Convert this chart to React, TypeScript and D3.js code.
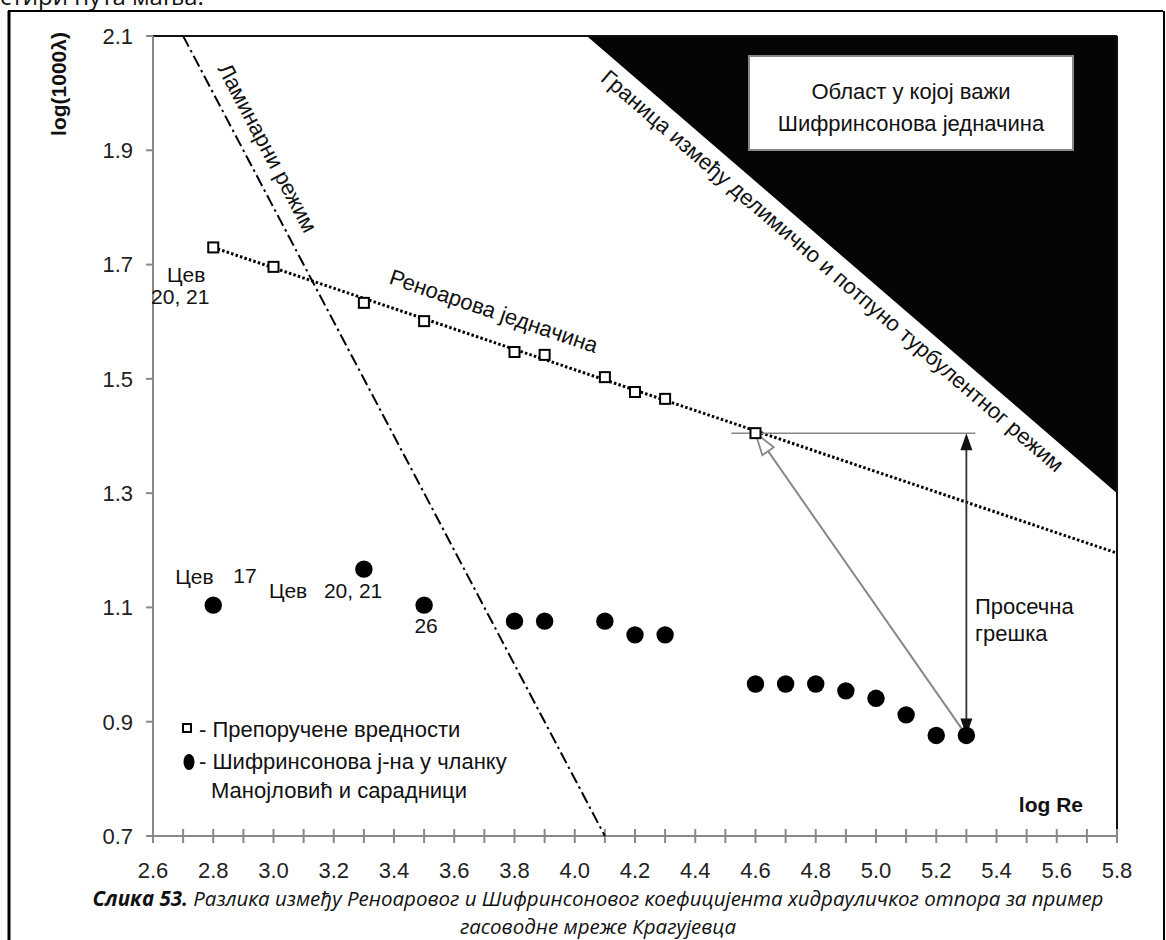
import React from 'react';
import * as d3 from 'd3';

// Recommended values (Renoar equation)
const renoarX = [2.8, 3.0, 3.3, 3.5, 3.8, 3.9, 4.1, 4.2, 4.3, 4.6];
const renoarY = [1.73, 1.696, 1.633, 1.601, 1.547, 1.542, 1.503, 1.477, 1.465, 1.405];
// Shifrinson equation values
const shifX = [2.8, 3.3, 3.5, 3.8, 3.9, 4.1, 4.2, 4.3, 4.6, 4.7, 4.8, 4.9, 5.0, 5.1, 5.2, 5.3];
const shifY = [1.104, 1.167, 1.104, 1.076, 1.076, 1.076, 1.052, 1.052, 0.966, 0.966, 0.966, 0.954, 0.941, 0.912, 0.876, 0.876];
// Lines
const laminarLine: [number, number][] = [[2.7, 2.1], [4.1, 0.7]];
const renoarLine: [number, number][] = [[2.8, 1.73], [5.8, 1.195]];
const turbulentArea: [number, number][] = [[4.04, 2.1], [5.8, 2.1], [5.8, 1.3]];
const errorFrom: [number, number] = [5.3, 0.876];
const errorTo: [number, number] = [4.6, 1.405];
const errorHLine: [number, number][] = [[4.52, 1.405], [5.33, 1.405]];
// Axes
const xTickLabels = ['2.6', '2.8', '3.0', '3.2', '3.4', '3.6', '3.8', '4.0', '4.2', '4.4', '4.6', '4.8', '5.0', '5.2', '5.4', '5.6', '5.8'];
const yTickLabels = ['0.7', '0.9', '1.1', '1.3', '1.5', '1.7', '1.9', '2.1'];

const FONT = '"Liberation Sans", Arial, sans-serif';
const CAP_FONT = '"Open Sans", "Noto Sans", sans-serif';

export default function App() {
  const x = d3.scaleLinear().domain([2.6, 5.8]).range([153, 1117]);
  const y = d3.scaleLinear().domain([0.7, 2.1]).range([836, 36]);
  const line = d3.line<[number, number]>().x(d => x(d[0])).y(d => y(d[1]));
  const minorTicks = d3.range(26, 59).map(v => v / 10);

  const along = (pts: [number, number][], frac: number, off: number, text: string, size = 22) => {
    const ax = x(pts[0][0]), ay = y(pts[0][1]);
    const bx = x(pts[pts.length - 1][0]), by = y(pts[pts.length - 1][1]);
    const ang = (Math.atan2(by - ay, bx - ax) * 180) / Math.PI;
    const cx = ax + (bx - ax) * frac, cy = ay + (by - ay) * frac;
    return (
      <text transform={`translate(${cx},${cy}) rotate(${ang})`} y={off} textAnchor="middle" fontSize={size} fill="#111">
        {text}
      </text>
    );
  };

  // error arrow geometry
  const fx = x(errorFrom[0]), fy = y(errorFrom[1]);
  const tx = x(errorTo[0]), ty = y(errorTo[1]);
  const dl = Math.hypot(tx - fx, ty - fy);
  const ux = (tx - fx) / dl, uy = (ty - fy) / dl;
  const hl = 22, hw = 7;
  const bxh = tx - ux * hl, byh = ty - uy * hl;
  const hollowHead = `M${tx},${ty} L${bxh - uy * hw},${byh + ux * hw} L${bxh + uy * hw},${byh - ux * hw} Z`;

  const vx = x(errorFrom[0]);
  const vTop = y(errorTo[1]);
  const vBot = y(errorFrom[1]);

  const tri = (tipX: number, tipY: number, dir: number) =>
    `M${tipX},${tipY} L${tipX - 6},${tipY + dir * 17} L${tipX + 6},${tipY + dir * 17} Z`;

  return (
    <svg width={1166} height={940} style={{ position: 'absolute', left: 0, top: 0, background: '#fff' }} fontFamily={FONT}>
      {/* clipped page text above the figure */}
      <text x={0} y={5} fontFamily={CAP_FONT} fontSize={24} fill="#111">стири пута мања.</text>
      {/* figure frame */}
      <line x1={8} y1={11} x2={1163} y2={11} stroke="#000" strokeWidth={2} />
      <line x1={9} y1={11} x2={9} y2={940} stroke="#000" strokeWidth={3} />
      <line x1={1164} y1={11} x2={1164} y2={940} stroke="#000" strokeWidth={2} />

      {/* turbulent area */}
      <path d={line(turbulentArea) + 'Z'} fill="#050505" />
      <rect x={749} y={56} width={324} height={94} fill="#fff" stroke="#888" strokeWidth={2} />
      <text x={911} y={99} textAnchor="middle" fontSize={22} fill="#111">Област у којој важи</text>
      <text x={911} y={131} textAnchor="middle" fontSize={22} fill="#111">Шифринсонова једначина</text>

      {/* plot frame */}
      <line x1={x(2.6)} y1={y(2.1)} x2={x(5.8)} y2={y(2.1)} stroke="#111" strokeWidth={2} />
      <line x1={x(5.8)} y1={y(2.1)} x2={x(5.8)} y2={y(0.7)} stroke="#111" strokeWidth={2} />
      {/* y axis */}
      <line x1={x(2.6)} y1={y(2.1)} x2={x(2.6)} y2={y(0.7)} stroke="#888" strokeWidth={2} />
      {yTickLabels.map(l => (
        <g key={l}>
          <line x1={x(2.6) - 7} x2={x(2.6)} y1={y(+l)} y2={y(+l)} stroke="#888" strokeWidth={2} />
          <text x={x(2.6) - 20} y={y(+l)} dy="0.36em" textAnchor="end" fontSize={22} fill="#222">{l}</text>
        </g>
      ))}
      {/* x axis */}
      <line x1={x(2.6) - 7} y1={y(0.7)} x2={x(5.8)} y2={y(0.7)} stroke="#888" strokeWidth={2} />
      {minorTicks.map(v => (
        <line key={v} x1={x(v)} x2={x(v)} y1={y(0.7) - 7} y2={y(0.7) + 7} stroke="#888" strokeWidth={2} />
      ))}
      {xTickLabels.map(l => (
        <text key={l} x={x(+l)} y={y(0.7) + 42} textAnchor="middle" fontSize={22} fill="#222">{l}</text>
      ))}

      {/* axis titles */}
      <text transform={`translate(66,84) rotate(-90)`} textAnchor="middle" fontSize={21} fontWeight="bold" fill="#111">log(1000λ)</text>
      <text x={1083} y={812} textAnchor="end" fontSize={21} fontWeight="bold" fill="#111">log Re</text>

      {/* laminar line */}
      <path d={line(laminarLine) || ''} stroke="#000" strokeWidth={2} fill="none" strokeDasharray="12 4 2.5 4" />
      {along(laminarLine, 0.153, -15, 'Ламинарни режим')}

      {/* renoar line */}
      <path d={line(renoarLine) || ''} stroke="#000" strokeWidth={3} fill="none" strokeDasharray="2.5 2.2" />
      {along(renoarLine, 0.3, -22, 'Реноарова једначина')}

      {/* boundary label */}
      {along(turbulentArea.filter((_, i) => i !== 1), 0.485, 25, 'Граница између делимично и потпуно турбулентног режим')}

      {/* average error annotation */}
      <path d={line(errorHLine) || ''} stroke="#888" strokeWidth={1.5} fill="none" />
      <line x1={fx} y1={fy} x2={bxh} y2={byh} stroke="#888" strokeWidth={2} />
      <path d={hollowHead} fill="#fff" stroke="#888" strokeWidth={1.8} />
      <line x1={vx} y1={vTop + 15} x2={vx} y2={vBot - 15} stroke="#333" strokeWidth={1.8} />
      <path d={tri(vx, vTop, 1)} fill="#111" />
      <path d={tri(vx, vBot, -1)} fill="#111" />
      <text x={975} y={614} fontSize={22} fill="#111">Просечна</text>
      <text x={975} y={641} fontSize={22} fill="#111">грешка</text>

      {/* squares */}
      {renoarX.map((v, i) => (
        <rect key={'s' + i} x={x(v) - 5} y={y(renoarY[i]) - 5} width={10} height={10} fill="#fff" stroke="#000" strokeWidth={2} />
      ))}
      {/* circles */}
      {shifX.map((v, i) => (
        <circle key={'c' + i} cx={x(v)} cy={y(shifY[i])} r={8.7} fill="#000" />
      ))}

      {/* point labels */}
      <text x={x(renoarX[0]) - 27} y={y(renoarY[0]) + 35} textAnchor="middle" fontSize={21} fill="#111">Цев</text>
      <text x={x(renoarX[0]) - 33} y={y(renoarY[0]) + 57} textAnchor="middle" fontSize={21} fill="#111">20, 21</text>
      <text x={x(shifX[0]) - 38} y={y(shifY[0]) - 21} fontSize={21} fill="#111">Цев</text>
      <text x={x(shifX[0]) + 20} y={y(shifY[0]) - 22} fontSize={21} fill="#111">17</text>
      <text x={x(shifX[1]) - 95} y={y(shifY[1]) + 29} fontSize={21} fill="#111">Цев</text>
      <text x={x(shifX[1]) - 40} y={y(shifY[1]) + 29} fontSize={21} fill="#111">20, 21</text>
      <text x={x(shifX[2]) + 2} y={y(shifY[2]) + 28} textAnchor="middle" fontSize={21} fill="#111">26</text>

      {/* legend */}
      <rect x={183} y={724} width={8} height={8} fill="#fff" stroke="#000" strokeWidth={2} />
      <text x={199} y={737} fontSize={22} fill="#111">- Препоручене вредности</text>
      <ellipse cx={189} cy={762} rx={5.5} ry={8} fill="#000" />
      <text x={199} y={769} fontSize={22} fill="#111">- Шифринсонова j-на у чланку</text>
      <text x={211} y={798} fontSize={22} fill="#111">Манојловић и сарадници</text>

      {/* caption */}
      <text x={598} y={906} textAnchor="middle" fontFamily={CAP_FONT} fontStyle="italic" fontSize={20.5} fill="#111">
        <tspan fontWeight="bold">Слика 53.</tspan> Разлика између Реноаровог и Шифринсоновог коефицијента хидрауличког отпора за пример
      </text>
      <text x={598} y={934} textAnchor="middle" fontFamily={CAP_FONT} fontStyle="italic" fontSize={20.5} fill="#111">гасоводне мреже Крагујевца</text>
    </svg>
  );
}
